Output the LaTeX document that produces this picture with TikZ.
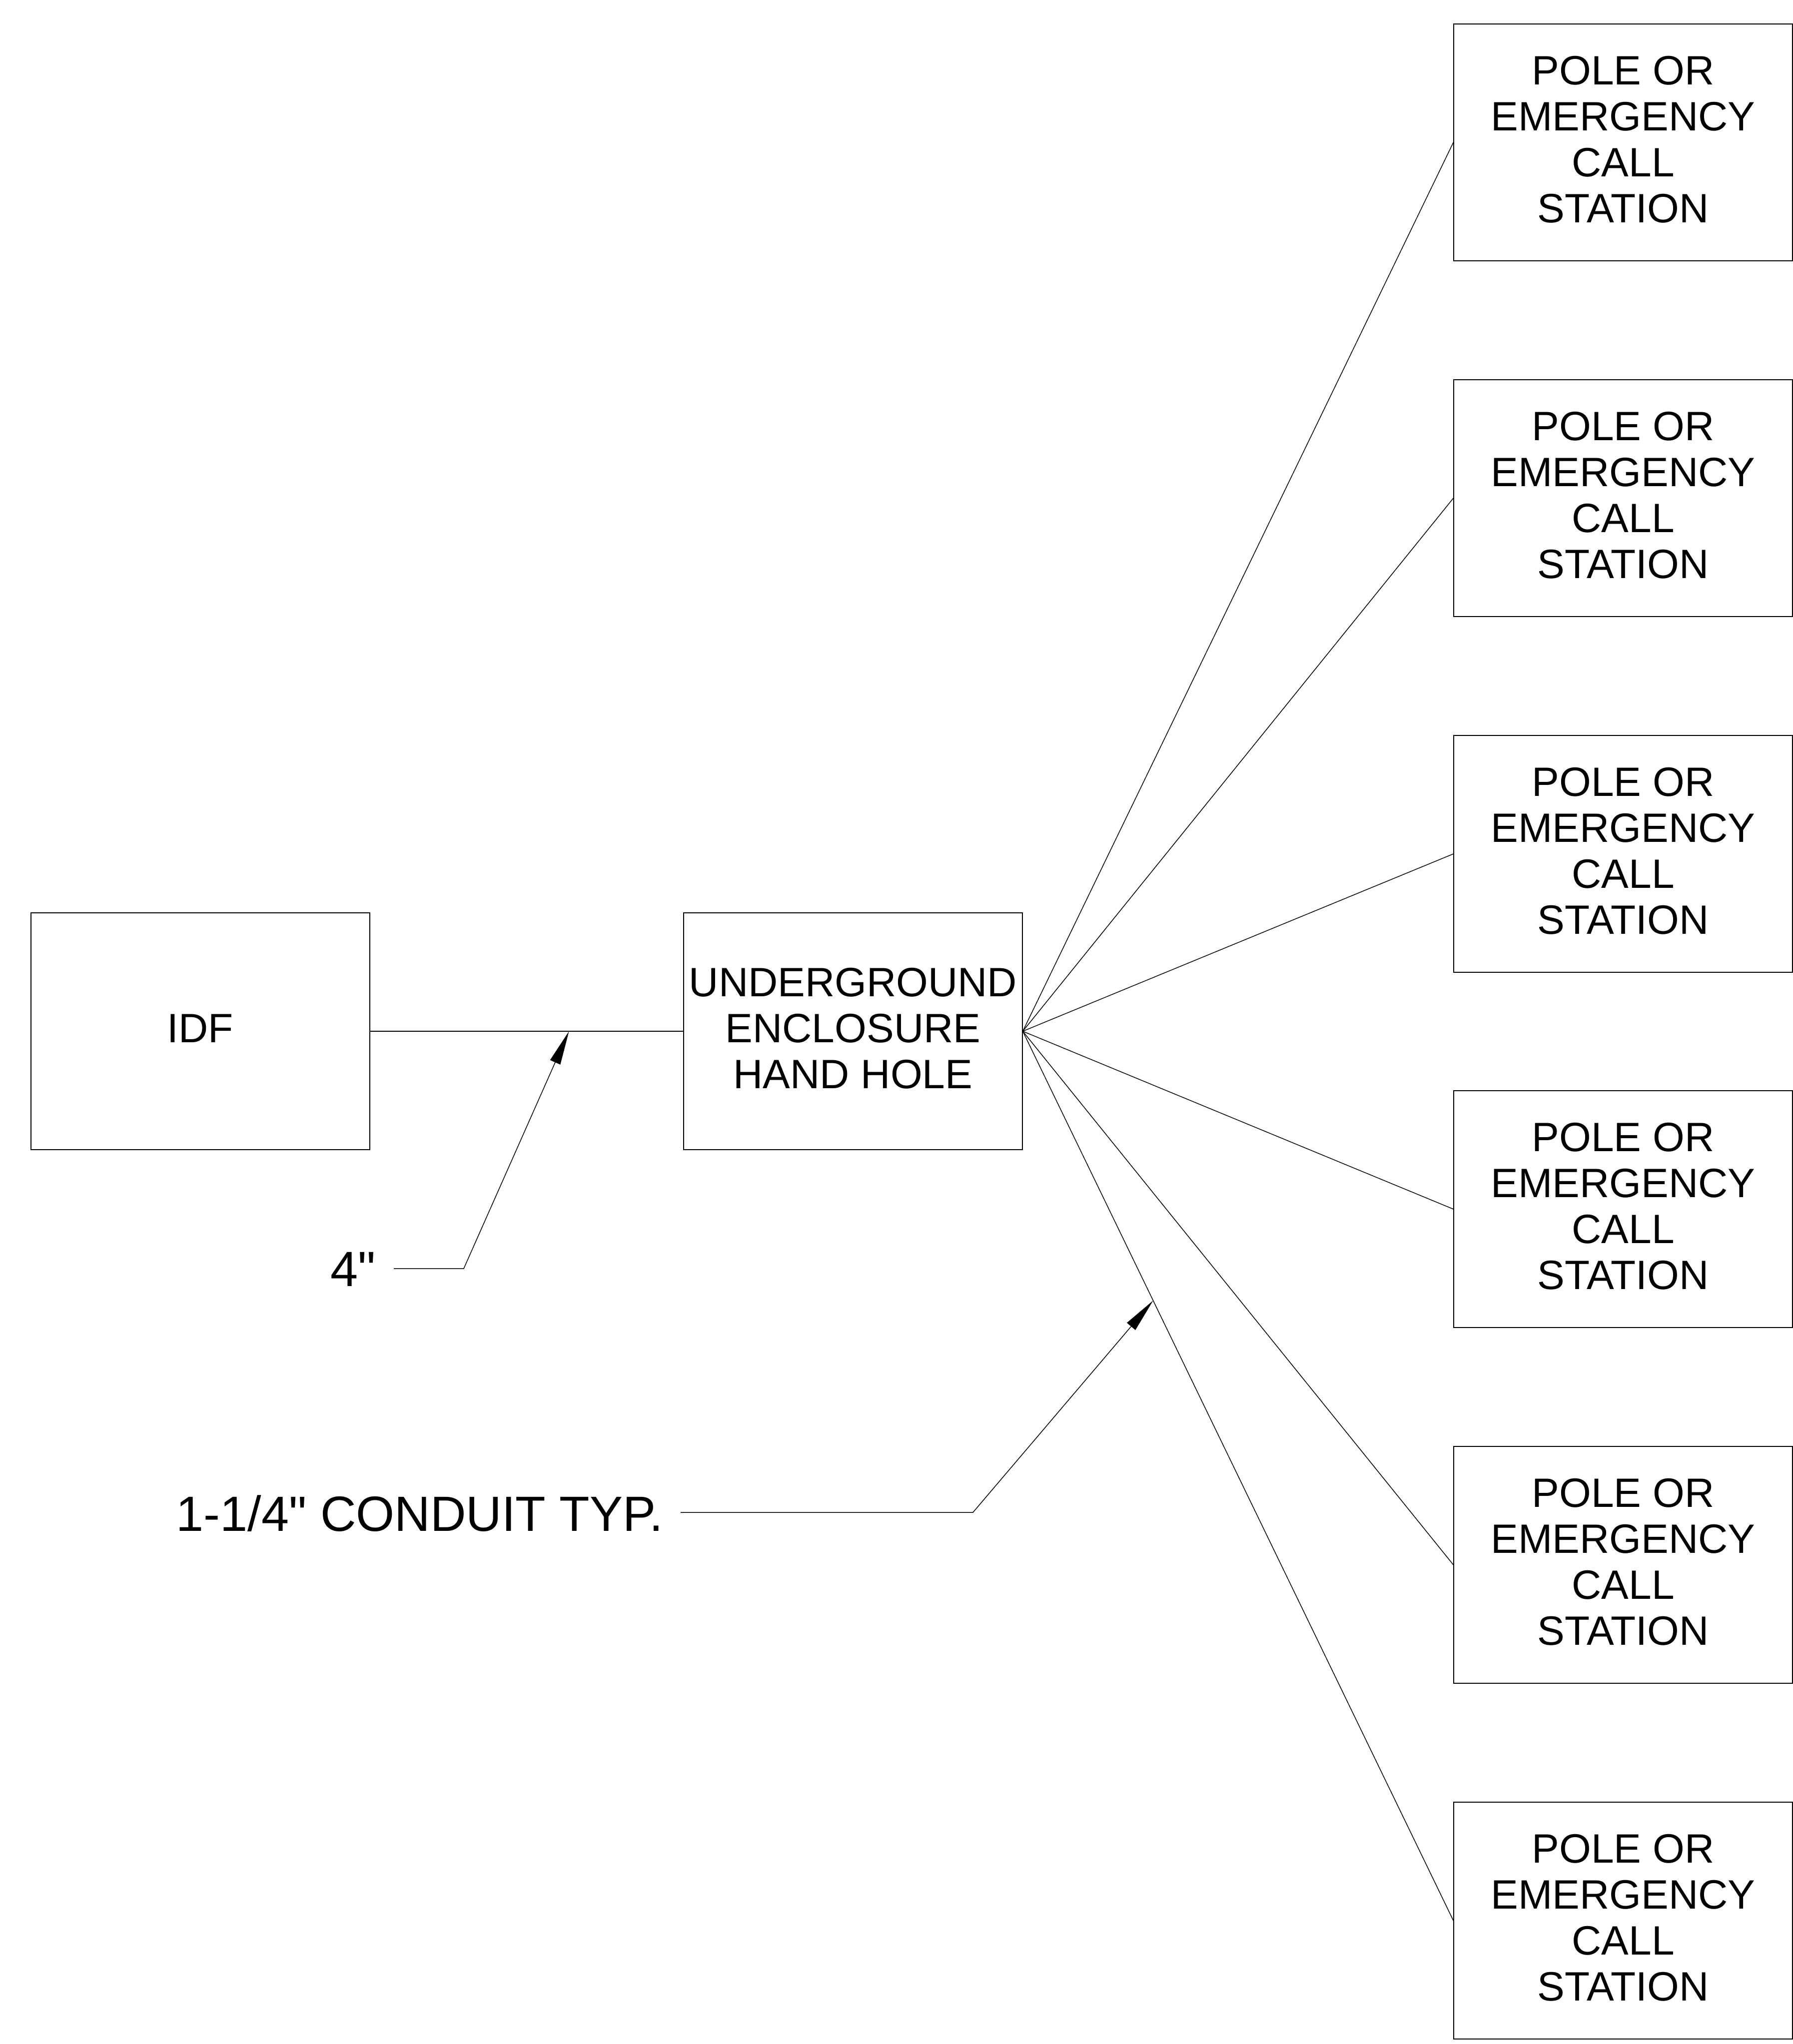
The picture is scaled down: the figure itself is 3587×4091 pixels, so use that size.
\documentclass[tikz,border=0pt]{standalone}
\usepackage{fontspec}
\setmainfont{Liberation Sans}[Ligatures=TeXOff]
\usetikzlibrary{arrows.meta,calc}
\begin{document}
\begin{tikzpicture}[x=0.01cm,y=-0.01cm,
  box/.style={draw=black,line width=0.55pt,minimum width=6.77cm,minimum height=4.74cm,
    inner sep=0pt,align=center,text depth=0.12cm,font=\fontsize{23.33pt}{26.18pt}\selectfont},
  conn/.style={line width=0.42pt},
  lead/.style={line width=0.42pt,-{Triangle[length=6.8mm,width=2.2mm]}},
  lbl/.style={inner sep=0pt,font=\fontsize{28.17pt}{32pt}\selectfont}]
\useasboundingbox (0,0) rectangle (3587,4091);
% main boxes
\node[box] (idf) at (401,2064) {IDF};
\node[box] (ug) at (1707,2064) {UNDERGROUND\\ENCLOSURE\\HAND HOLE};
% pole / call station boxes
\node[box] (p1) at (3248,285) {POLE OR\\EMERGENCY\\CALL\\STATION};
\node[box] (p2) at (3248,997) {POLE OR\\EMERGENCY\\CALL\\STATION};
\node[box] (p3) at (3248,1709) {POLE OR\\EMERGENCY\\CALL\\STATION};
\node[box] (p4) at (3248,2420) {POLE OR\\EMERGENCY\\CALL\\STATION};
\node[box] (p5) at (3248,3132) {POLE OR\\EMERGENCY\\CALL\\STATION};
\node[box] (p6) at (3248,3844) {POLE OR\\EMERGENCY\\CALL\\STATION};
% connectors
\draw[conn] (idf.east) -- (ug.west);
\foreach \p in {p1,p2,p3,p4,p5,p6}{
  \draw[conn] (ug.east) -- (\p.west);
}
% 4" label and leader
\node[lbl,anchor=base west] (l4) at (661,2574) {4"};
\coordinate (s4) at (788,2539);
\coordinate (k4) at (928,2539);
\coordinate (t4) at ($(idf.east)!0.635!(ug.west)$);
\draw[lead] (s4) -- (k4) -- (t4);
% conduit label and leader
\node[lbl,anchor=base west] (lc) at (352,3064) {1-1/4" CONDUIT TYP.};
\coordinate (sc) at (1362,3027);
\coordinate (kc) at (1947,3027);
\coordinate (tc) at ($(ug.east)!0.3028!(p6.west)$);
\draw[lead] (sc) -- (kc) -- (tc);
\end{tikzpicture}
\end{document}
